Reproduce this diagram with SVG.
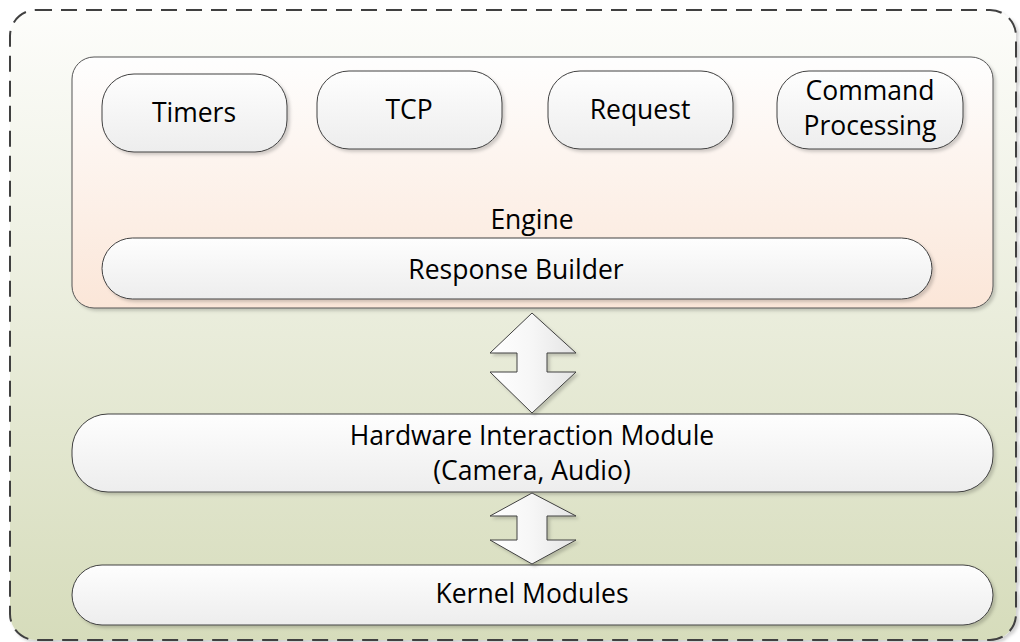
<svg xmlns="http://www.w3.org/2000/svg" width="1020" height="642" viewBox="0 0 1020 642">
<defs>
<linearGradient id="gOuter" x1="0" y1="0" x2="0" y2="1">
<stop offset="0" stop-color="#fdfdfb"/>
<stop offset="1" stop-color="#d6dcbb"/>
</linearGradient>
<linearGradient id="gEngine" x1="0" y1="0" x2="0" y2="1">
<stop offset="0" stop-color="#fefefe"/>
<stop offset="1" stop-color="#fbe6d8"/>
</linearGradient>
<linearGradient id="gNode" x1="0" y1="0" x2="0" y2="1">
<stop offset="0" stop-color="#fefefe"/>
<stop offset="1" stop-color="#ededed"/>
</linearGradient>
<linearGradient id="gArrow" x1="0" y1="0" x2="1" y2="0">
<stop offset="0" stop-color="#ffffff"/>
<stop offset="0.5" stop-color="#f6f6f6"/>
<stop offset="1" stop-color="#e4e4e4"/>
</linearGradient>
<filter id="sh" x="-5%" y="-10%" width="115%" height="130%">
<feDropShadow dx="2.5" dy="2.5" stdDeviation="1.5" flood-color="#000" flood-opacity="0.18"/>
</filter>
</defs>
<style>
.node{fill:url(#gNode);stroke:#404040;stroke-width:1;filter:url(#sh)}
.arrow{fill:url(#gArrow);stroke:#404040;stroke-width:1;filter:url(#sh)}
text{font-family:"Open Sans","Noto Sans","Liberation Sans",sans-serif;font-size:26.5px;fill:#000;text-anchor:middle}
</style>
<g id="system">
<rect x="10" y="10" width="1006" height="630" rx="26" ry="26" fill="url(#gOuter)" stroke="#404040" stroke-width="2" stroke-dasharray="16 9" filter="url(#sh)"/>
</g>
<g id="engine">
<rect x="72" y="57" width="921" height="251" rx="22" ry="22" fill="url(#gEngine)" stroke="#555" stroke-width="1" filter="url(#sh)"/>
<text x="532" y="229">Engine</text>
</g>
<g id="timers">
<rect class="node" x="102" y="74" width="185" height="78" rx="32" ry="32"/>
<text x="194" y="122">Timers</text>
</g>
<g id="tcp">
<rect class="node" x="317" y="71" width="185" height="78" rx="32" ry="32"/>
<text x="409" y="119">TCP</text>
</g>
<g id="request">
<rect class="node" x="548" y="71" width="185" height="78" rx="32" ry="32"/>
<text x="640" y="119">Request</text>
</g>
<g id="command">
<rect class="node" x="777" y="71" width="186" height="78" rx="32" ry="32"/>
<text x="870" y="100">Command</text>
<text x="870" y="135">Processing</text>
</g>
<g id="response">
<rect class="node" x="102" y="238" width="830" height="61" rx="30.5" ry="30.5"/>
<text x="516" y="279">Response Builder</text>
</g>
<g id="hardware">
<rect class="node" x="72" y="414" width="921" height="78" rx="36" ry="36"/>
<text x="532" y="445">Hardware Interaction Module</text>
<text x="532" y="480">(Camera, Audio)</text>
</g>
<g id="kernel">
<rect class="node" x="72" y="565" width="921" height="60" rx="30" ry="30"/>
<text x="532" y="603">Kernel Modules</text>
</g>
<g id="connectors">
<polygon class="arrow" points="532,313 576,353 547,353 547,372 576,372 532,413 490,372 517,372 517,353 490,353"/>
<polygon class="arrow" points="532,493 576,516 547,516 547,540 576,540 532,564 490,540 517,540 517,516 490,516"/>
</g>
</svg>
